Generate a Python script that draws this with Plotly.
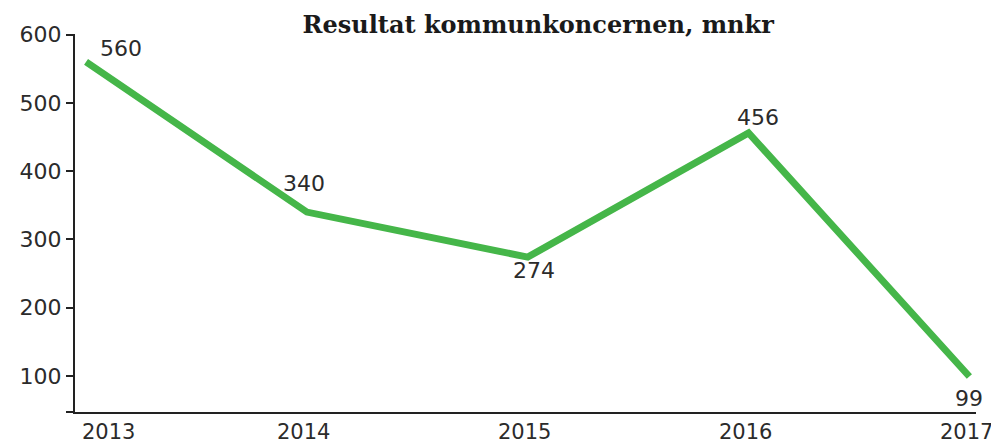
import plotly.graph_objects as go

years = [2013, 2014, 2015, 2016, 2017]
values = [560, 340, 274, 456, 99]
y_ticks = [100, 200, 300, 400, 500, 600]
title_text = "Resultat kommunkoncernen, mnkr"

# label offsets (pixels) relative to each point
label_dx = [35, -3, 6, 9, 0]
label_dy = [13, 29, -13, 15, -22]

Y_MIN, Y_MAX = 47, 601

fig = go.Figure()
fig.add_trace(go.Scatter(
    x=years, y=values,
    mode="lines",
    line=dict(color="#45b649", width=7),
    hoverinfo="skip",
))

font = dict(family="DejaVu Sans", size=22, color="#2b2b2b")
xfont = dict(family="DejaVu Sans", size=21, color="#2b2b2b")

for i, (yr, v) in enumerate(zip(years, values)):
    fig.add_annotation(
        x=yr, y=v, xref="x", yref="y",
        text=str(v), showarrow=False,
        xanchor="center", yanchor="middle",
        xshift=label_dx[i], yshift=label_dy[i],
        font=font,
    )

# x tick labels as annotations (first shifted right as in the original)
for i, yr in enumerate(years):
    fig.add_annotation(
        x=yr, y=0, xref="x", yref="paper",
        text=str(yr), showarrow=False,
        yanchor="middle", yshift=-20,
        xshift=22 if i == 0 else -3,
        font=xfont,
    )

fig.update_layout(
    width=991, height=438,
    margin=dict(l=67, r=23, t=26, b=34),
    paper_bgcolor="white", plot_bgcolor="white",
    showlegend=False,
    title=dict(
        text="<b>" + title_text + "</b>",
        x=0.535, xanchor="center", y=1 - 17 / 438, yanchor="middle",
        font=dict(family="DejaVu Serif", size=24, color="#1a1a1a"),
    ),
    xaxis=dict(
        range=[2012.95, 2017.03],
        showgrid=False, zeroline=False,
        showline=True, linecolor="#222222", linewidth=2,
        showticklabels=False, ticks="",
    ),
    yaxis=dict(
        range=[Y_MIN, Y_MAX],
        tickvals=[Y_MIN] + y_ticks,
        ticktext=[""] + [str(t) for t in y_ticks],
        showgrid=False, zeroline=False,
        showline=True, linecolor="#222222", linewidth=2,
        ticks="outside", ticklen=7, tickwidth=2, tickcolor="#222222",
        tickfont=font,
    ),
)

fig.write_html("out.html")
